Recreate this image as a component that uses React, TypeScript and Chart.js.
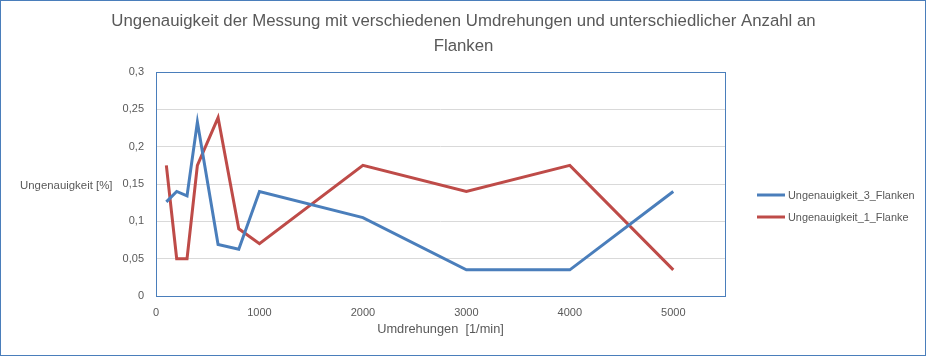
import React, { useEffect, useRef } from 'react';
import { Chart, registerables } from 'chart.js';

Chart.register(...registerables);

const rpm = [100, 200, 300, 400, 600, 800, 1000, 2000, 3000, 4000, 5000];
const flanken3 = [0.126, 0.14, 0.134, 0.233, 0.069, 0.0625, 0.14, 0.105, 0.035, 0.035, 0.14];
const flanke1 = [0.175, 0.05, 0.05, 0.175, 0.239, 0.09, 0.07, 0.175, 0.14, 0.175, 0.035];
const seriesNames = ['Ungenauigkeit_3_Flanken', 'Ungenauigkeit_1_Flanke'];
const seriesColors = ['#4a7ebb', '#be4b48'];
const titleLines = [
  'Ungenauigkeit der Messung mit verschiedenen Umdrehungen und unterschiedlicher Anzahl an',
  'Flanken',
];
const xTitle = 'Umdrehungen  [1/min]';
const yTitle = 'Ungenauigkeit [%]';
const xTickValues = [0, 1000, 2000, 3000, 4000, 5000];
const yTickValues = [0, 0.05, 0.1, 0.15, 0.2, 0.25, 0.3];
const xMin = 0;
const xMax = 5500;
const yMin = 0;
const yMax = 0.3;

const W = 927;
const H = 357;
const FONT = '"Liberation Sans", Arial, sans-serif';
const TEXT = '#595959';
const BLUE = '#4a7ebb';

const decorPlugin = {
  id: 'decor',
  beforeDatasetsDraw(chart: any) {
    const { ctx, chartArea: a } = chart;
    ctx.save();
    ctx.strokeStyle = BLUE;
    ctx.lineWidth = 1;
    ctx.strokeRect(Math.round(a.left) + 0.5, Math.round(a.top) + 0.5, Math.round(a.right - a.left), Math.round(a.bottom - a.top));
    ctx.restore();
  },
  afterDraw(chart: any) {
    const { ctx, chartArea: a } = chart;
    ctx.save();
    ctx.strokeStyle = BLUE;
    ctx.lineWidth = 1;
    ctx.strokeRect(0.5, 0.5, W - 2, H - 2);
    ctx.fillStyle = TEXT;
    ctx.font = `16.8px ${FONT}`;
    ctx.textAlign = 'center';
    ctx.textBaseline = 'middle';
    titleLines.forEach((t, i) => ctx.fillText(t, W / 2, 21 + i * 25));
    ctx.font = `12.8px ${FONT}`;
    ctx.fillText(xTitle, (a.left + a.right) / 2, 329);
    ctx.font = `11.4px ${FONT}`;
    ctx.textAlign = 'left';
    ctx.fillText(yTitle, 20, 186);
    ctx.font = `10.9px ${FONT}`;
    chart.data.datasets.forEach((ds: any, i: number) => {
      const y = 195 + i * 22;
      ctx.strokeStyle = ds.borderColor;
      ctx.lineWidth = 3;
      ctx.beginPath();
      ctx.moveTo(757, y);
      ctx.lineTo(785, y);
      ctx.stroke();
      ctx.fillStyle = TEXT;
      ctx.fillText(ds.label, 788, y + 0.5);
    });
    ctx.restore();
  },
};

export default function App() {
  const ref = useRef<HTMLCanvasElement>(null);
  useEffect(() => {
    if (!ref.current) return;
    const chart = new Chart(ref.current, {
      type: 'scatter',
      data: {
        datasets: [flanken3, flanke1].map((vals, i) => ({
          label: seriesNames[i],
          data: rpm.map((x, j) => ({ x, y: vals[j] })),
          showLine: true,
          borderColor: seriesColors[i],
          backgroundColor: seriesColors[i],
          borderWidth: 3,
          pointRadius: 0,
          tension: 0,
        })),
      },
      options: {
        responsive: false,
        animation: false,
        devicePixelRatio: 1,
        layout: { padding: { top: 72, right: 202, bottom: 0, left: 0 } },
        plugins: {
          legend: { display: false },
          title: { display: false },
          tooltip: { enabled: false },
        },
        scales: {
          x: {
            type: 'linear',
            min: xMin,
            max: xMax,
            grid: { display: false, drawTicks: false },
            border: { display: false },
            ticks: {
              color: TEXT,
              font: { family: FONT, size: 11 },
              padding: 10,
              maxRotation: 0,
              autoSkip: false,
              callback: (v: any) => String(v),
            },
            afterBuildTicks: (s: any) => { s.ticks = xTickValues.map((value) => ({ value })); },
            afterFit: (s: any) => { s.height = 61; },
          },
          y: {
            type: 'linear',
            min: yMin,
            max: yMax,
            grid: { color: '#d9d9d9', drawTicks: false },
            border: { display: false },
            ticks: {
              color: TEXT,
              font: { family: FONT, size: 11 },
              padding: 12,
              autoSkip: false,
              callback: (v: any) => String(Math.round(Number(v) * 100) / 100).replace('.', ','),
            },
            afterBuildTicks: (s: any) => { s.ticks = yTickValues.map((value) => ({ value })); },
            afterFit: (s: any) => { s.width = 156; },
          },
        },
      },
      plugins: [decorPlugin],
    } as any);
    return () => chart.destroy();
  }, []);
  return (
    <div style={{ position: 'fixed', left: 0, top: 0, width: W, height: H, background: '#fff' }}>
      <canvas ref={ref} width={W} height={H} style={{ display: 'block', width: W, height: H }} />
    </div>
  );
}
